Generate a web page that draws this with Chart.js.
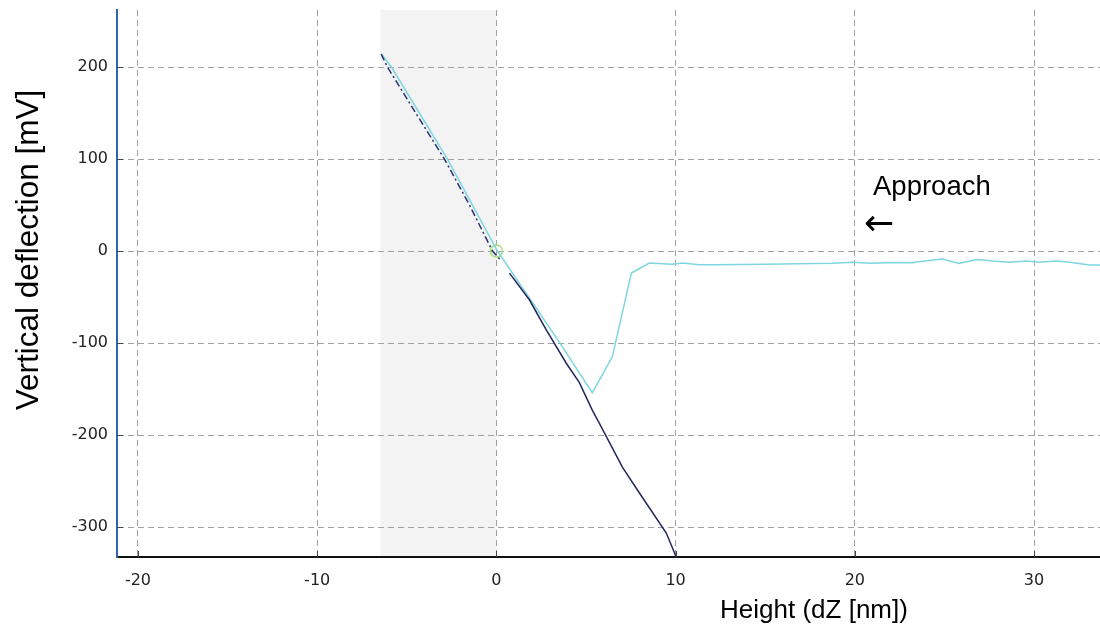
<!DOCTYPE html>
<html>
<head>
<meta charset="utf-8">
<script src="https://cdn.jsdelivr.net/npm/chart.js@4.4.1/dist/chart.umd.min.js"></script>
<style>
html,body{margin:0;padding:0;background:#fff;}
#wrap{width:1100px;height:630px;}
</style>
</head>
<body>
<div id="wrap"><canvas id="c" width="1100" height="630"></canvas></div>
<script>
// ---- data ----
const approachX = [-6.41,-5.86,-2.73,0.06,3.51,5.35,6.47,7.53,8.53,9.8,10.4,11.3,12.3,15,18.7,19.9,20.8,21.8,23.2,24,24.9,25.8,26.8,27.7,28.6,29.6,30.3,31.2,32,33.1,33.7];
const approachY = [214,200,100,0,-99,-154,-115,-24,-13,-14.5,-13,-15,-15,-14.5,-13.4,-12.3,-13.4,-12.7,-12.7,-10.5,-8.7,-13.4,-9.1,-10.9,-12.3,-10.9,-12.3,-10.9,-12.3,-15.2,-15.2];
const fitX = [-6.43,-6.08,-4.5,-2.9,-1.5,-0.22,0.25];
const fitY = [214,200,150,100,50,0,-10];
const retractX = [0.73,1.84,2.79,3.9,4.63,5.35,5.74,7.03,7.98,9.48,10.04];
const retractY = [-24,-53,-86,-122,-143,-173,-187,-235,-263,-306.5,-333];
const contactX = [0];
const contactY = [0];
const shadeX = [-6.47, 0];
const xTicks = [-20,-10,0,10,20,30];
const yTicks = [-300,-200,-100,0,100,200];
const xRange = [-21.17, 33.68];
const yRange = [-332.6, 262];

const pts = (xs, ys) => xs.map((x, i) => ({x: x, y: ys[i]}));

const decor = {
  id: 'decor',
  beforeDraw(chart) {
    const {ctx, chartArea: a, scales: {x}} = chart;
    const x0 = x.getPixelForValue(shadeX[0]);
    const x1 = x.getPixelForValue(shadeX[1]);
    ctx.save();
    ctx.fillStyle = '#f3f3f3';
    ctx.fillRect(x0, a.top, x1 - x0, a.bottom - a.top);
    ctx.restore();
  },
  afterDraw(chart) {
    const {ctx, chartArea: a, scales: {x, y}} = chart;
    ctx.save();
    // inward tick marks
    ctx.strokeStyle = '#444';
    ctx.lineWidth = 1;
    ctx.beginPath();
    xTicks.forEach(v => {
      const px = Math.round(x.getPixelForValue(v)) + 0.5;
      ctx.moveTo(px, a.bottom);
      ctx.lineTo(px, a.bottom - 6);
    });
    yTicks.forEach(v => {
      const py = Math.round(y.getPixelForValue(v)) + 0.5;
      ctx.moveTo(a.left, py);
      ctx.lineTo(a.left + 6, py);
    });
    ctx.stroke();
    // titles and annotation
    ctx.fillStyle = '#000';
    ctx.font = '26px "Liberation Sans", Arial, sans-serif';
    ctx.textAlign = 'center';
    ctx.textBaseline = 'middle';
    ctx.fillText('Height (dZ [nm])', 814, 611);
    ctx.textAlign = 'left';
    ctx.font = '27.5px "Liberation Sans", Arial, sans-serif';
    ctx.fillText('Approach', 873, 187);
    ctx.font = '36px "DejaVu Sans", sans-serif';
    ctx.fillText('\u2190', 864, 226);
    ctx.translate(29, 250);
    ctx.rotate(-Math.PI / 2);
    ctx.textAlign = 'center';
    ctx.font = '31.5px "Liberation Sans", Arial, sans-serif';
    ctx.fillText('Vertical deflection [mV]', 0, 0);
    ctx.restore();
  }
};

const noPad = s => { s.paddingLeft = 0; s.paddingRight = 0; s.paddingTop = 0; s.paddingBottom = 0; };

new Chart(document.getElementById('c'), {
  type: 'scatter',
  data: {
    datasets: [
      {data: pts(retractX, retractY), showLine: true, borderColor: '#22285e', borderWidth: 1.5, pointRadius: 0, tension: 0},
      {data: pts(fitX, fitY), showLine: true, borderColor: '#2a3070', borderWidth: 1.5, borderDash: [7,3,2,3], pointRadius: 0, tension: 0},
      {data: pts(approachX, approachY), showLine: true, borderColor: '#7fd6df', borderWidth: 1.5, pointRadius: 0, tension: 0},
      {data: pts(contactX, contactY), showLine: false, pointRadius: 6, pointBorderColor: '#a6e07a', pointBackgroundColor: 'rgba(0,0,0,0)', pointBorderWidth: 1.5}
    ]
  },
  options: {
    responsive: false,
    devicePixelRatio: 1,
    animation: false,
    layout: {autoPadding: false, padding: {top: 10, right: 0, left: 0, bottom: 0}},
    plugins: {legend: {display: false}, tooltip: {enabled: false}},
    scales: {
      x: {
        type: 'linear', min: xRange[0], max: xRange[1],
        afterBuildTicks: s => { s.ticks = xTicks.map(v => ({value: v})); },
        afterFit: s => { s.height = 73; noPad(s); },
        grid: {color: '#a0a0a0', lineWidth: 1, drawTicks: false},
        border: {display: true, color: '#111', width: 2, dash: [6,4]},
        ticks: {padding: 14, color: '#222', font: {family: '"DejaVu Sans", sans-serif', size: 16}}
      },
      y: {
        type: 'linear', min: yRange[0], max: yRange[1],
        afterBuildTicks: s => { s.ticks = yTicks.map(v => ({value: v})); },
        afterFit: s => { s.width = 117; noPad(s); },
        grid: {color: '#a0a0a0', lineWidth: 1, drawTicks: false},
        border: {display: true, color: '#3463b0', width: 2, dash: [6,4]},
        ticks: {padding: 9, color: '#222', font: {family: '"DejaVu Sans", sans-serif', size: 16}}
      }
    }
  },
  plugins: [decor]
});
</script>
</body>
</html>
